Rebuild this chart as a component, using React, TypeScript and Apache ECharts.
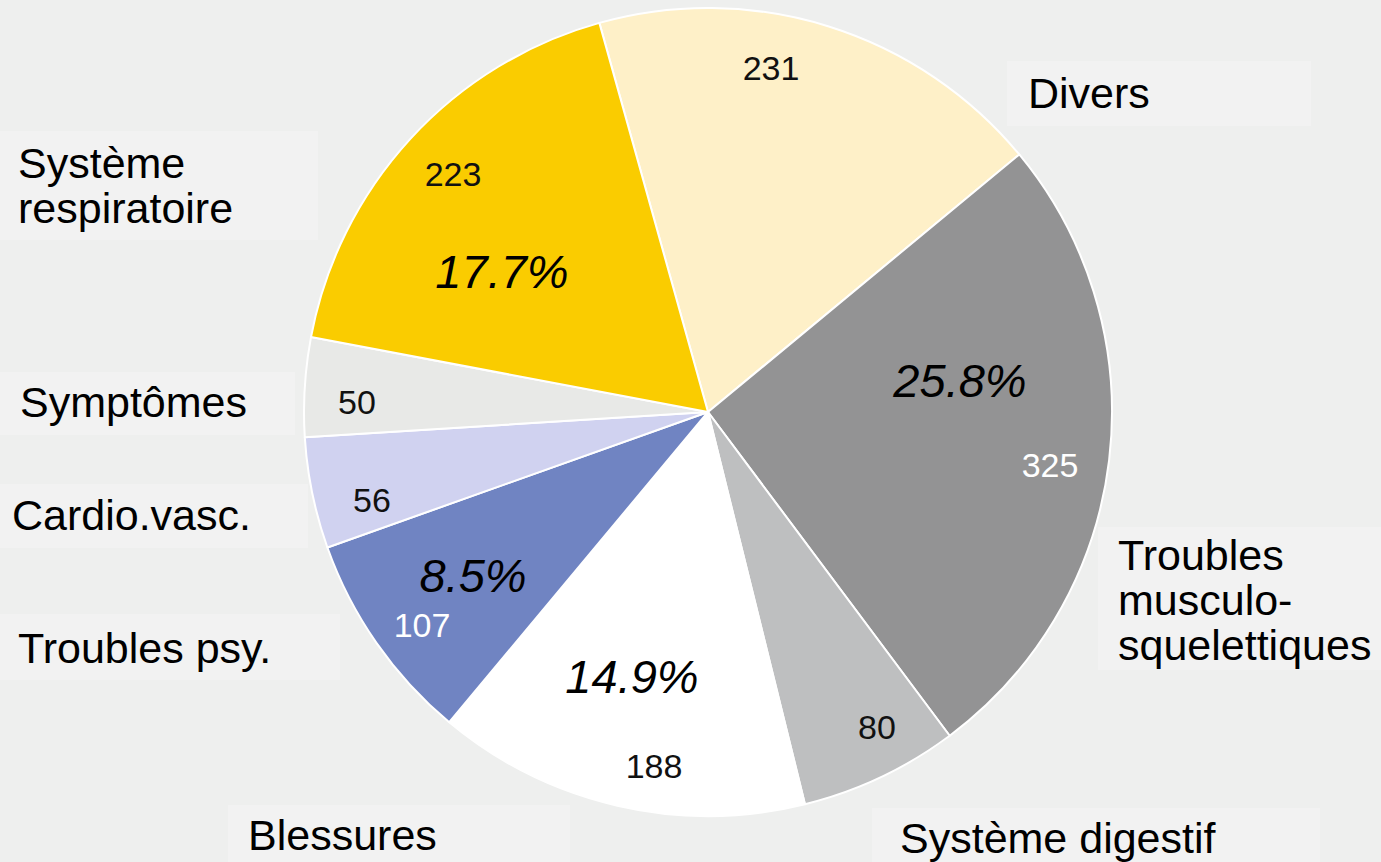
import React, { useEffect, useRef } from "react";
import * as echarts from "echarts";

const categories = [
  "Divers",
  "Troubles musculo-squelettiques",
  "Système digestif",
  "Blessures",
  "Troubles psy.",
  "Cardio.vasc.",
  "Symptômes",
  "Système respiratoire",
];
const values = [231, 325, 80, 188, 107, 56, 50, 223];
const showPercent = [false, true, false, true, true, false, false, true];
const labelLines = [
  ["Divers"],
  ["Troubles", "musculo-", "squelettiques"],
  ["Système digestif"],
  ["Blessures"],
  ["Troubles psy."],
  ["Cardio.vasc."],
  ["Symptômes"],
  ["Système", "respiratoire"],
];

// styles / layout
const colors = ["#FEF0C8", "#939394", "#BEBFC0", "#FFFFFF", "#7084C2", "#D0D2F0", "#E8E9E7", "#FACC00"];
const valueColors = ["#111", "#fff", "#111", "#111", "#fff", "#111", "#111", "#111"];
// box: [x, y, w, h], text: [x, firstLineCenterY, lineHeight]
const boxes = [
  [1007, 61, 304, 65],
  [1098, 527, 283, 143],
  [872, 808, 448, 54],
  [228, 805, 342, 57],
  [0, 614, 340, 66],
  [0, 484, 308, 64],
  [0, 372, 295, 63],
  [0, 131, 318, 109],
];
const textPos = [
  [1028, 93, 45],
  [1118, 555, 45],
  [900, 838, 45],
  [248, 835, 45],
  [18, 648, 45],
  [12, 515, 45],
  [20, 402, 45],
  [18, 163, 45],
];
const valuePos = [
  [771, 68],
  [1050, 465],
  [877, 727],
  [654, 766],
  [422, 625],
  [372, 500],
  [357, 402],
  [453, 174],
];
const pctPos = [
  [0, 0],
  [960, 380],
  [0, 0],
  [632, 676],
  [473, 575],
  [0, 0],
  [0, 0],
  [502, 271],
];

export default function App() {
  const ref = useRef<HTMLDivElement>(null);
  useEffect(() => {
    document.body.style.margin = "0";
    const chart = echarts.init(ref.current!, null, { renderer: "svg" });
    const total = values.reduce((a, b) => a + b, 0);
    const graphic: any[] = [];
    categories.forEach((_, i) => {
      const b = boxes[i];
      graphic.push({
        type: "rect",
        z: 0,
        shape: { x: b[0], y: b[1], width: b[2], height: b[3] },
        style: { fill: "#F2F2F2" },
        silent: true,
      });
      const t = textPos[i];
      graphic.push({
        type: "text",
        z: 100,
        x: t[0],
        y: t[1] - t[2] / 2,
        style: {
          text: labelLines[i].join("\n"),
          fill: "#000",
          fontSize: 43,
          lineHeight: t[2],
          fontFamily: '"Liberation Sans", Arial, sans-serif',
          textAlign: "left",
          textVerticalAlign: "top",
          verticalAlign: "top",
        },
        silent: true,
      });
      const v = valuePos[i];
      graphic.push({
        type: "text",
        z: 100,
        x: v[0],
        y: v[1],
        style: {
          text: String(values[i]),
          fill: valueColors[i],
          fontSize: 34,
          fontFamily: '"Liberation Sans", Arial, sans-serif',
          textAlign: "center",
          textVerticalAlign: "middle",
          verticalAlign: "middle",
        },
        silent: true,
      });
      if (showPercent[i]) {
        const p = pctPos[i];
        graphic.push({
          type: "text",
          z: 100,
          x: p[0],
          y: p[1],
          style: {
            text: ((values[i] / total) * 100).toFixed(1) + "%",
            fill: "#000",
            fontSize: 47,
            fontStyle: "italic",
            fontFamily: '"Liberation Sans", Arial, sans-serif',
            textAlign: "center",
            textVerticalAlign: "middle",
            verticalAlign: "middle",
          },
          silent: true,
        });
      }
    });
    chart.setOption({
      animation: false,
      backgroundColor: "#EEEFEE",
      series: [
        {
          type: "pie",
          z: 2,
          center: [708, 412],
          radius: 404,
          startAngle: 105.6,
          clockwise: true,
          label: { show: false },
          labelLine: { show: false },
          emphasis: { disabled: true },
          itemStyle: { borderColor: "#FFFFFF", borderWidth: 2 },
          data: categories.map((name, i) => ({
            name,
            value: values[i],
            itemStyle: { color: colors[i] },
          })),
        },
      ],
      graphic,
    });
    return () => chart.dispose();
  }, []);
  return <div ref={ref} style={{ width: 1381, height: 862 }} />;
}
